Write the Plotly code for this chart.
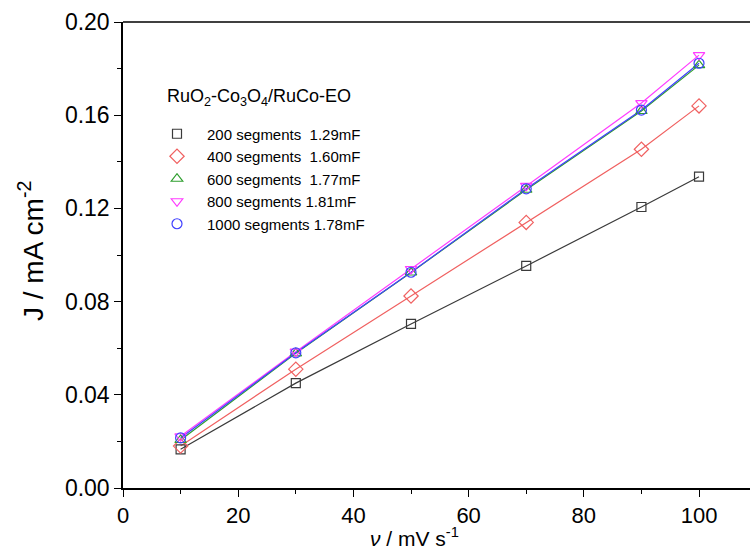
import plotly.graph_objects as go

scan_rate = [10, 30, 50, 70, 90, 100]
series_names = [
    "200 segments\u00a0\u00a01.29mF",
    "400 segments\u00a0\u00a01.60mF",
    "600 segments\u00a0\u00a01.77mF",
    "800 segments 1.81mF",
    "1000 segments 1.78mF",
]
legend_title = "RuO<sub>2</sub>-Co<sub>3</sub>O<sub>4</sub>/RuCo-EO"
j_200 = [0.0166, 0.0450, 0.0704, 0.0953, 0.1206, 0.1336]
j_400 = [0.0180, 0.0510, 0.0824, 0.1140, 0.1454, 0.1640]
j_600 = [0.0206, 0.0578, 0.0925, 0.1280, 0.1618, 0.1815]
j_800 = [0.0222, 0.0585, 0.0940, 0.1297, 0.1652, 0.1858]
j_1000 = [0.0215, 0.0580, 0.0926, 0.1284, 0.1622, 0.1823]
series_values = [j_200, j_400, j_600, j_800, j_1000]

colors = ["#3a3a3a", "#f06060", "#2e9e2e", "#ff3cff", "#4040ff"]
symbols = ["square-open", "diamond-open", "triangle-up-open", "triangle-down-open", "circle-open"]
sizes = [9, 11, 10, 10, 10]

fig = go.Figure()
for name, vals, c in zip(series_names, series_values, colors):
    fig.add_trace(go.Scatter(
        x=scan_rate, y=vals, mode="lines", showlegend=False, hoverinfo="skip",
        line=dict(color=c, width=1.2),
    ))
for name, vals, c, s, sz in zip(series_names, series_values, colors, symbols, sizes):
    fig.add_trace(go.Scatter(
        x=scan_rate, y=vals, name=name, mode="markers",
        marker=dict(symbol=s, size=sz, color=c, line=dict(color=c, width=1.2)),
    ))

font_family = "Liberation Sans, Arial, sans-serif"
fig.update_layout(
    width=750, height=559,
    margin=dict(l=123, r=0, t=22, b=71),
    paper_bgcolor="white", plot_bgcolor="white",
    font=dict(family=font_family, color="black"),
    showlegend=True,
    legend=dict(
        x=(147 - 123) / 627, y=(488 - 179) / 466, xanchor="left", yanchor="middle",
        bgcolor="rgba(0,0,0,0)",
        font=dict(size=15, family=font_family, color="black"),
        itemwidth=50,
        tracegroupgap=0,
    ),
    xaxis=dict(
        range=[0, 108.85], tickvals=[0, 20, 40, 60, 80, 100],
        ticks="outside", ticklen=7, tickwidth=1.3, tickcolor="black",
        minor=dict(ticks="outside", ticklen=4, tickwidth=1.3, tickcolor="black", dtick=10, tick0=0),
        showline=True, linecolor="black", linewidth=1.5, showgrid=False, zeroline=False,
        tickfont=dict(size=22, family=font_family), automargin=False,
    ),
    yaxis=dict(
        range=[0, 0.2], tickvals=[0, 0.04, 0.08, 0.12, 0.16, 0.20], tickformat=".2f",
        ticks="outside", ticklen=7, tickwidth=1.3, tickcolor="black",
        minor=dict(ticks="outside", ticklen=4, tickwidth=1.3, tickcolor="black", dtick=0.02, tick0=0),
        showline=True, linecolor="black", linewidth=1.5, showgrid=False, zeroline=False,
        tickfont=dict(size=23, family=font_family), automargin=False,
    ),
    annotations=[
        dict(text=legend_title, xref="paper", yref="paper", x=(165 - 123) / 627, y=(488 - 97) / 466,
             xanchor="left", yanchor="middle", showarrow=False,
             font=dict(size=18, family=font_family, color="black")),
        dict(text="J / mA cm<sup>-2</sup>", xref="paper", yref="paper", x=(31 - 123) / 627, y=(488 - 251) / 466,
             xanchor="center", yanchor="middle", textangle=-90, showarrow=False,
             font=dict(size=28, family=font_family, color="black")),
        dict(text="<i>\u03bd</i> / mV s<sup>-1</sup>", xref="paper", yref="paper", x=(414 - 123) / 627, y=(488 - 537) / 466,
             xanchor="center", yanchor="middle", showarrow=False,
             font=dict(size=21, family=font_family, color="black")),
    ],
)
fig.add_shape(type="line", xref="paper", yref="paper", x0=0, x1=1, y0=1, y1=1,
              line=dict(color="black", width=1.5))

fig.write_html(
    "out.html",
    config={"displayModeBar": False},
    post_script="document.body.style.margin='0';document.body.style.overflow='hidden';"
                "document.documentElement.style.overflow='hidden';",
)
